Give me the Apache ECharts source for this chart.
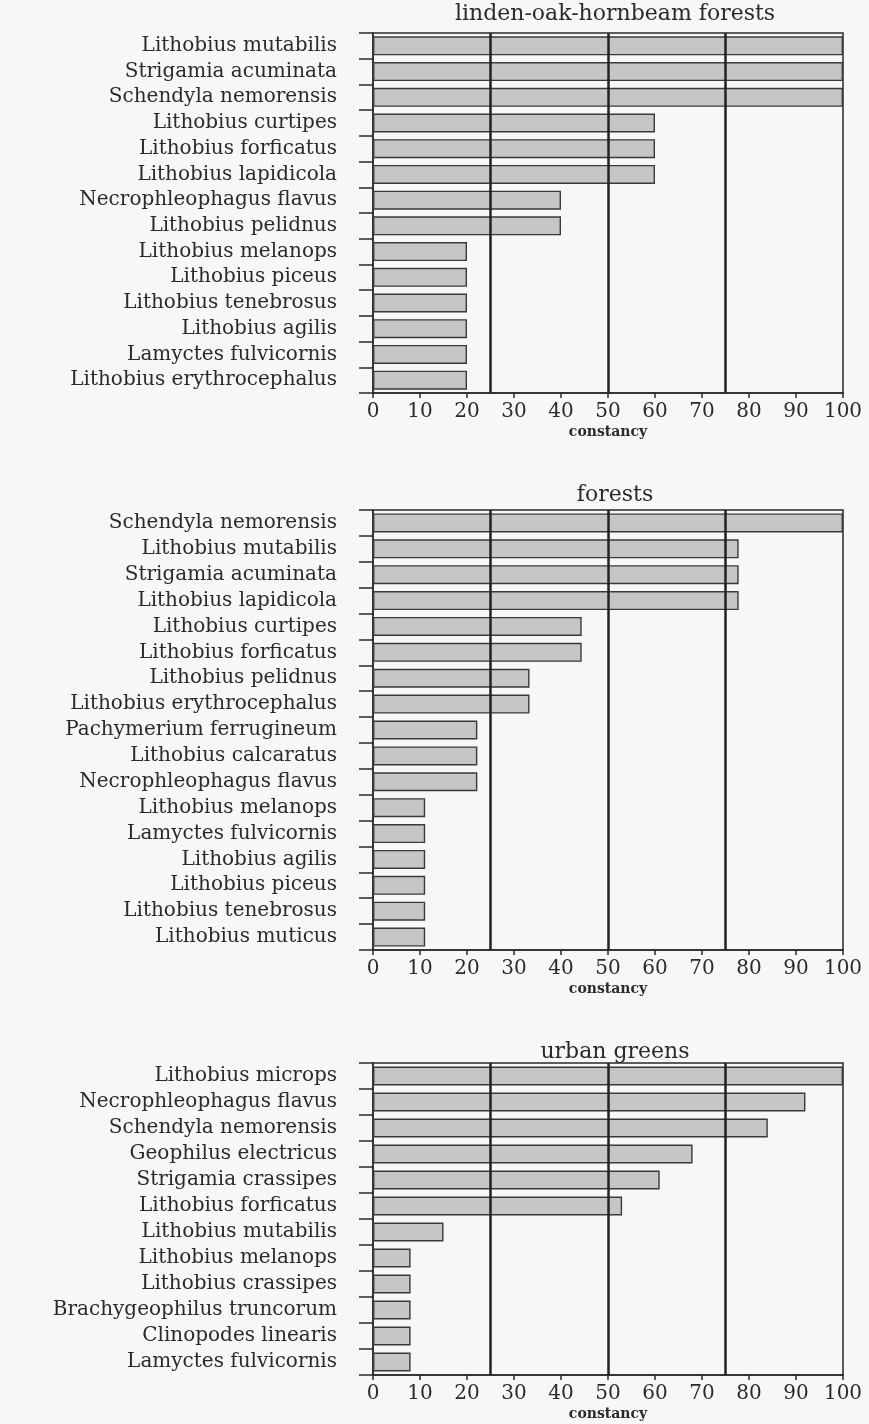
<!DOCTYPE html>
<html><head><meta charset="utf-8">
<script src="https://cdn.jsdelivr.net/npm/echarts@6/dist/echarts.min.js"></script>
<style>html,body{margin:0;padding:0;background:#f7f7f5}#c{width:869px;height:1424px}</style>
</head><body><div id="c"></div>
<script>
const titles = ['linden-oak-hornbeam forests', 'forests', 'urban greens'];
const cats1 = ['Lithobius mutabilis','Strigamia acuminata','Schendyla nemorensis','Lithobius curtipes','Lithobius forficatus','Lithobius lapidicola','Necrophleophagus flavus','Lithobius pelidnus','Lithobius melanops','Lithobius piceus','Lithobius tenebrosus','Lithobius agilis','Lamyctes fulvicornis','Lithobius erythrocephalus'];
const vals1 = [100,100,100,60,60,60,40,40,20,20,20,20,20,20];
const cats2 = ['Schendyla nemorensis','Lithobius mutabilis','Strigamia acuminata','Lithobius lapidicola','Lithobius curtipes','Lithobius forficatus','Lithobius pelidnus','Lithobius erythrocephalus','Pachymerium ferrugineum','Lithobius calcaratus','Necrophleophagus flavus','Lithobius melanops','Lamyctes fulvicornis','Lithobius agilis','Lithobius piceus','Lithobius tenebrosus','Lithobius muticus'];
const vals2 = [100,77.8,77.8,77.8,44.4,44.4,33.3,33.3,22.2,22.2,22.2,11.1,11.1,11.1,11.1,11.1,11.1];
const cats3 = ['Lithobius microps','Necrophleophagus flavus','Schendyla nemorensis','Geophilus electricus','Strigamia crassipes','Lithobius forficatus','Lithobius mutabilis','Lithobius melanops','Lithobius crassipes','Brachygeophilus truncorum','Clinopodes linearis','Lamyctes fulvicornis'];
const vals3 = [100,92,84,68,61,53,15,8,8,8,8,8];
const refLines = [25,50,75];
const xTicks = {min:0, max:100, interval:10};

const FONT = 'DejaVu Serif';
const ink = '#2a2a2a';
const grids = [
  {left:373, right:26, top:33, height:360},
  {left:373, right:26, top:510, height:440},
  {left:373, right:26, top:1063, height:312}
];
const titleTops = [-2, 479, 1036];
const cats = [cats1, cats2, cats3];
const vals = [vals1, vals2, vals3];

const option = {
  backgroundColor:'#f7f7f5',
  animation:false,
  title: titles.map((t,i)=>({text:t, left:610, top:titleTops[i], textAlign:'center',
    textStyle:{fontFamily:FONT, fontSize:22, fontWeight:'normal', color:ink}})),
  grid: grids.map(g=>Object.assign({show:true, borderColor:ink, borderWidth:1.5, backgroundColor:'transparent'}, g)),
  xAxis: grids.map((g,i)=>({type:'value', gridIndex:i, min:xTicks.min, max:xTicks.max, interval:xTicks.interval,
    name:'constancy', nameLocation:'middle', nameGap:32,
    nameTextStyle:{fontFamily:FONT, fontSize:14, fontWeight:'bold', color:ink},
    axisLine:{show:true, lineStyle:{color:ink, width:1.5}},
    axisTick:{show:true, length:5, lineStyle:{color:ink, width:1.5}},
    axisLabel:{fontFamily:FONT, fontSize:20, color:ink, margin:9, hideOverlap:false},
    splitLine:{show:false}})),
  yAxis: grids.map((g,i)=>({type:'category', gridIndex:i, inverse:true, data:cats[i],
    axisLine:{show:true, lineStyle:{color:ink, width:1.5}},
    axisTick:{show:true, length:14, interval:0, alignWithLabel:false, lineStyle:{color:ink, width:1.5}},
    axisLabel:{fontFamily:FONT, fontSize:20, color:ink, margin:36, interval:0, hideOverlap:false}})),
  series: vals.map((v,i)=>({type:'bar', xAxisIndex:i, yAxisIndex:i, data:v, barWidth:19,
    itemStyle:{color:'#c6c6c4', borderColor:'#3a3a3a', borderWidth:1.4},
    markLine:{silent:true, symbol:['none','none'], label:{show:false},
      lineStyle:{color:'#222', width:2.5, type:'solid'},
      data: refLines.map(x=>({xAxis:x}))}}))
};
echarts.init(document.getElementById('c')).setOption(option);
</script></body></html>
